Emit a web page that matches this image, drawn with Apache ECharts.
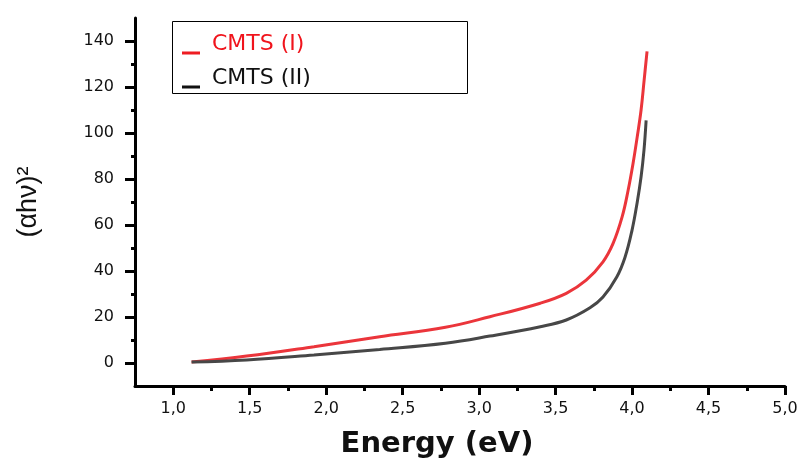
<!DOCTYPE html>
<html>
<head>
<meta charset="utf-8">
<script src="https://cdn.jsdelivr.net/npm/echarts@6/dist/echarts.min.js"></script>
<style>
  html, body { margin: 0; padding: 0; background: #fff; }
  #chart { width: 802px; height: 459px; }
</style>
</head>
<body>
<div id="chart"></div>
<script>
// CMTS (I)
var energyI = [1.12, 1.48, 1.92, 2.35, 2.78, 3.07, 3.40, 3.57, 3.70, 3.81, 3.876, 3.935, 3.974, 4.007, 4.033, 4.059, 4.079, 4.098];
var valuesI = [0.4, 3.0, 7.1, 11.4, 15.5, 20.1, 26.0, 30.3, 36, 44, 52, 63.5, 75, 87, 98, 110, 123, 135.5];
// CMTS (II)
var energyII = [1.12, 1.48, 1.92, 2.35, 2.78, 3.07, 3.40, 3.57, 3.725, 3.81, 3.90, 3.954, 4.0, 4.033, 4.059, 4.078, 4.092];
var valuesII = [0.4, 1.3, 3.5, 5.9, 8.6, 11.7, 15.8, 18.7, 24, 28.7, 37.4, 46, 57.8, 69.6, 81, 92.6, 105.5];

var xTicks = [1.0, 1.5, 2.0, 2.5, 3.0, 3.5, 4.0, 4.5, 5.0];
var yTicks = [0, 20, 40, 60, 80, 100, 120, 140];

function pairs(xs, ys) {
  return xs.map(function (x, i) { return [x, ys[i]]; });
}

var chart = echarts.init(document.getElementById('chart'));

var tickFont = { fontFamily: 'DejaVu Sans', fontSize: 16, color: '#111' };

chart.setOption({
  animation: false,
  grid: { left: 135, right: 17, top: 18, bottom: 73, outerBoundsMode: 'none' },
  xAxis: {
    type: 'value', min: 0.75, max: 5.0, splitNumber: 8,
    name: 'Energy (eV)', nameLocation: 'middle', nameGap: 44,
    nameTextStyle: { fontFamily: 'DejaVu Sans', fontWeight: 'bold', fontSize: 29, color: '#111', padding: [0, 46, 0, 0] },
    axisLine: { onZero: false, lineStyle: { color: '#000', width: 3 } },
    axisTick: { show: true, customValues: xTicks, length: 9, lineStyle: { color: '#000', width: 3 } },
    minorTick: { show: true, splitNumber: 2, length: 5, lineStyle: { color: '#000', width: 3 } },
    axisLabel: {
      customValues: xTicks, margin: 15,
      formatter: function (v) { return v.toFixed(1).replace('.', ','); },
      fontFamily: tickFont.fontFamily, fontSize: tickFont.fontSize, color: tickFont.color
    },
    splitLine: { show: false }
  },
  yAxis: {
    type: 'value', min: -10, max: 150, splitNumber: 8,
    name: '(\u03b1h\u03bd)\u00b2', nameLocation: 'middle', nameGap: 93, nameRotate: 90,
    nameTextStyle: { fontFamily: 'Liberation Sans', fontSize: 27, color: '#111' },
    axisLine: { onZero: false, lineStyle: { color: '#000', width: 3 } },
    axisTick: { show: true, customValues: yTicks, length: 10, lineStyle: { color: '#000', width: 3 } },
    minorTick: { show: true, splitNumber: 2, length: 4, lineStyle: { color: '#000', width: 3 } },
    axisLabel: {
      customValues: yTicks, margin: 21,
      fontFamily: tickFont.fontFamily, fontSize: tickFont.fontSize, color: tickFont.color
    },
    splitLine: { show: false }
  },
  graphic: [
    {
      type: 'rect', left: 172, top: 21,
      shape: { width: 295, height: 72 },
      style: { fill: '#fff', stroke: '#000', lineWidth: 1 },
      z: 1
    }
  ],
  legend: {
    left: 177, top: 28, orient: 'vertical', itemGap: 12,
    icon: 'path://M0,0h25v0.01h-25zM0,18.5h18v3h-18zM0,21.99h25v0.01h-25z',
    itemWidth: 25, itemHeight: 22,
    textStyle: { fontFamily: 'DejaVu Sans', fontSize: 22 },
    data: [
      { name: 'CMTS (I)', textStyle: { color: '#f0141c' } },
      { name: 'CMTS (II)', textStyle: { color: '#111' } }
    ],
    z: 5
  },
  series: [
    {
      name: 'CMTS (I)', type: 'line', smooth: 0.4, showSymbol: false,
      data: pairs(energyI, valuesI),
      lineStyle: { color: '#eb353b', width: 3 },
      itemStyle: { color: '#ee1c22' }
    },
    {
      name: 'CMTS (II)', type: 'line', smooth: 0.4, showSymbol: false,
      data: pairs(energyII, valuesII),
      lineStyle: { color: '#474747', width: 3 },
      itemStyle: { color: '#111' }
    }
  ]
});
</script>
</body>
</html>
